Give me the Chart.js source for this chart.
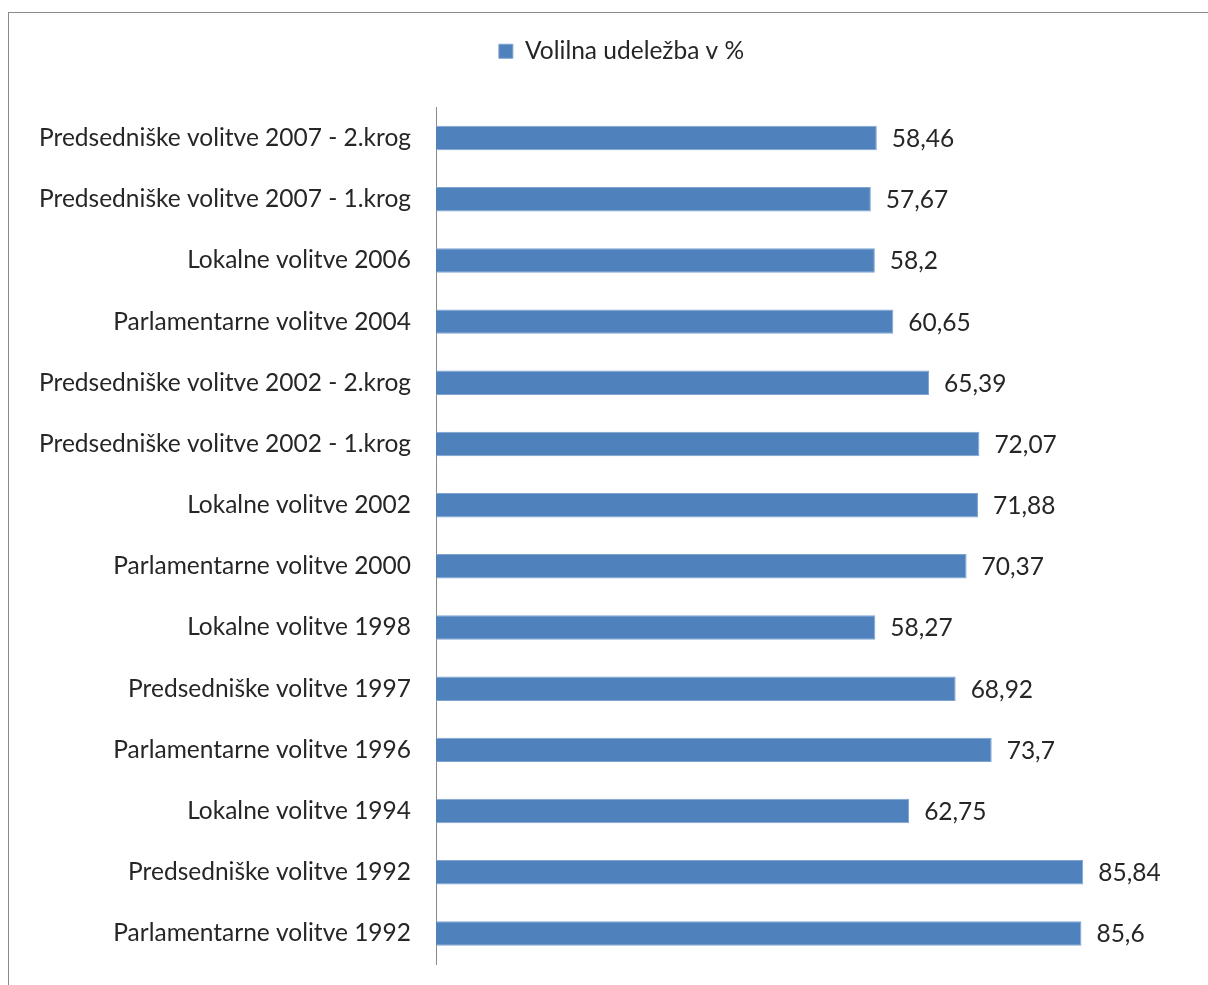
<!DOCTYPE html>
<html>
<head>
<meta charset="utf-8">
<script src="https://cdn.jsdelivr.net/npm/chart.js@4/dist/chart.umd.min.js"></script>
<style>
  html, body { margin: 0; padding: 0; background: #fff; overflow: hidden; }
  #frame {
    position: absolute; left: 8px; top: 12px;
    width: 1222px; height: 990px;
    border-left: 1px solid #8a8a8a; border-top: 1px solid #8a8a8a;
  }
  #frame canvas { display: block; }
</style>
</head>
<body>
<div id="frame"><canvas id="turnout" width="1222" height="990"></canvas></div>
<script>
const categories = [
  "Predsedniške volitve 2007 - 2.krog",
  "Predsedniške volitve 2007 - 1.krog",
  "Lokalne volitve 2006",
  "Parlamentarne volitve 2004",
  "Predsedniške volitve 2002 - 2.krog",
  "Predsedniške volitve 2002 - 1.krog",
  "Lokalne volitve 2002",
  "Parlamentarne volitve 2000",
  "Lokalne volitve 1998",
  "Predsedniške volitve 1997",
  "Parlamentarne volitve 1996",
  "Lokalne volitve 1994",
  "Predsedniške volitve 1992",
  "Parlamentarne volitve 1992"
];
const turnout = [58.46, 57.67, 58.2, 60.65, 65.39, 72.07, 71.88, 70.37, 58.27, 68.92, 73.7, 62.75, 85.84, 85.6];
const seriesName = "Volilna udeležba v %";

const FONT = "Lato, 'Open Sans', sans-serif";
const FONT_SIZE = 24.5;
const TEXT = '#262626';

// value printed after each bar, decimal comma
const barValues = {
  id: 'barValues',
  afterDatasetsDraw(chart) {
    const ctx = chart.ctx;
    const meta = chart.getDatasetMeta(0);
    ctx.save();
    ctx.font = FONT_SIZE + 'px ' + FONT;
    ctx.fillStyle = TEXT;
    ctx.textAlign = 'left';
    ctx.textBaseline = 'middle';
    meta.data.forEach((bar, i) => {
      const txt = String(turnout[i]).replace('.', ',');
      ctx.fillText(txt, bar.x + 15, bar.y + 1);
    });
    ctx.restore();
  }
};

// extra room under the legend, and nudge it a bit to the right
const legendGap = {
  id: 'legendGap',
  beforeInit(chart) {
    const fit = chart.legend.fit;
    chart.legend.fit = function () {
      fit.call(this);
      this.height += 34;
    };
  },
  afterLayout(chart) {
    chart.legend.left += 22;
    chart.legend.right += 22;
  }
};

new Chart(document.getElementById('turnout'), {
  type: 'bar',
  data: {
    labels: categories,
    datasets: [{
      label: seriesName,
      data: turnout,
      backgroundColor: '#4f81bd',
      borderColor: '#7ea3d1',
      borderWidth: 1,
      barPercentage: 0.4,
      categoryPercentage: 1.0
    }]
  },
  options: {
    indexAxis: 'y',
    responsive: false,
    animation: false,
    layout: { padding: { top: 0, right: 41, bottom: 39, left: 0 } },
    plugins: {
      tooltip: { enabled: false },
      legend: {
        position: 'top',
        labels: {
          boxWidth: 14,
          boxHeight: 14,
          padding: 26,
          color: TEXT,
          font: { family: FONT, size: FONT_SIZE }
        }
      }
    },
    scales: {
      x: {
        display: false,
        min: 0,
        max: 100
      },
      y: {
        afterFit(scale) { scale.width = 427; },
        grid: { display: false },
        border: { display: true, color: '#8a8a8a', width: 1 },
        ticks: {
          padding: 17,
          color: TEXT,
          font: { family: FONT, size: FONT_SIZE }
        }
      }
    }
  },
  plugins: [barValues, legendGap]
});
</script>
</body>
</html>
